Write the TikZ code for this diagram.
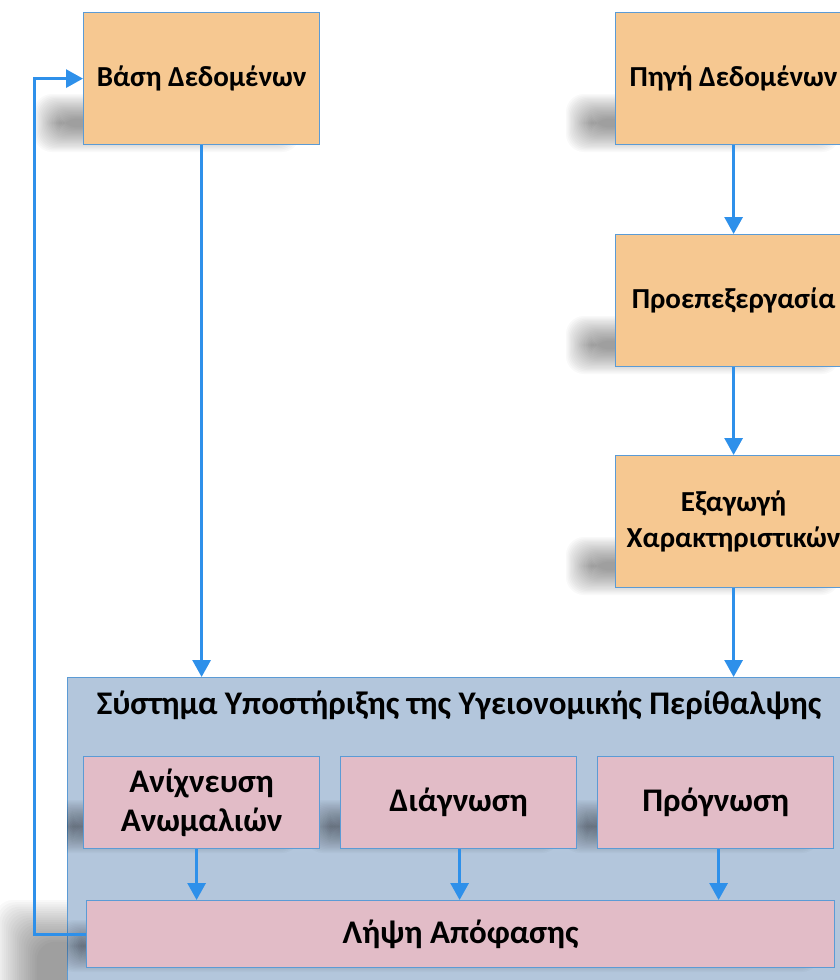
\documentclass[tikz,border=0pt]{standalone}
\usepackage{fontspec}
\setmainfont{Carlito}
\usetikzlibrary{arrows.meta,calc}
\definecolor{boxorange}{RGB}{246,200,145}
\definecolor{boxline}{RGB}{91,155,213}
\definecolor{sysfill}{RGB}{179,198,220}
\definecolor{pinkfill}{RGB}{226,188,199}
\definecolor{arrowblue}{RGB}{46,144,234}
% soft shadow: x1 y1 x2 y2 step
\newcommand{\sblob}[5]{%
  \foreach \k in {0,...,19}{%
    \fill[black,opacity=0.022,rounded corners=18pt] ({#1+#5*\k},{#2+#5*\k}) rectangle ({#3-#5*\k},{#4-#5*\k});
  }}
\begin{document}
\begin{tikzpicture}[x=1pt,y=-1pt,
  obox/.style={draw=boxline, line width=1.2pt, fill=boxorange, minimum width=236pt, minimum height=132pt, anchor=north west, align=center, font=\bfseries\fontsize{29}{36}\selectfont, inner sep=0pt},
  pbox/.style={draw=boxline, line width=1.2pt, fill=pinkfill, anchor=north west, align=center, font=\bfseries\fontsize{33}{39}\selectfont, inner sep=0pt},
  arr/.style={draw=arrowblue, line width=3pt, -{Triangle[width=18pt,length=17pt]}}
]
\useasboundingbox (0,0) rectangle (840,980);
\clip (0,0) rectangle (840,980);
% shadows
\sblob{34}{94}{300}{152}{1.3}
\sblob{566}{94}{840}{152}{1.3}
\sblob{566}{316}{840}{374}{1.3}
\sblob{566}{537}{840}{595}{1.3}
\sblob{-5}{900}{400}{1060}{2.2}
% main frame
\node[draw=boxline, line width=1.2pt, fill=sysfill, anchor=north west, minimum width=790pt, minimum height=330pt, inner sep=0pt] (sys) at (67,677) {};
\begin{scope}
\clip (67,677) rectangle (850,1000);
\sblob{48}{800}{300}{853}{1.3}
\sblob{305}{800}{560}{853}{1.3}
\sblob{562}{800}{820}{853}{1.3}
\sblob{56}{920}{820}{972}{1.3}
\end{scope}
% boxes
\node[obox] (vasi) at (83,12) {Βάση Δεδομένων};
\node[obox] (pigi) at (615,12) {Πηγή Δεδομένων};
\node[obox] (proep) at (615,234) {Προεπεξεργασία};
\node[obox] (exag) at (615,455) {Εξαγωγή\\Χαρακτηριστικών};
\node[font=\bfseries\fontsize{33}{39}\selectfont, inner sep=0pt] (systitle) at (459,705) {Σύστημα Υποστήριξης της Υγειονομικής Περίθαλψης};
\node[pbox, minimum width=236pt, minimum height=92pt] (anix) at (83,756) {Ανίχνευση\\Ανωμαλιών};
\node[pbox, minimum width=236pt, minimum height=92pt] (diag) at (340,756) {Διάγνωση};
\node[pbox, minimum width=236pt, minimum height=92pt] (prog) at (597,756) {Πρόγνωση};
\node[pbox, minimum width=748pt, minimum height=67pt] (lipsi) at (86,900) {Λήψη Απόφασης};
% connectors
\coordinate (fb) at (34,0);
\draw[arr] (pigi) -- (proep);
\draw[arr] (proep) -- (exag);
\draw[arr] (exag.south) -- (exag.south |- sys.north);
\draw[arr] (vasi.south) -- (vasi.south |- sys.north);
\draw[arr] ([xshift=-5pt]anix.south) -- ([xshift=-5pt]anix.south |- lipsi.north);
\draw[arr] ([xshift=1pt]diag.south) -- ([xshift=1pt]diag.south |- lipsi.north);
\draw[arr] ([xshift=3pt]prog.south) -- ([xshift=3pt]prog.south |- lipsi.north);
\draw[arr] (lipsi.west) -- (lipsi.west -| fb) -- (vasi.west -| fb) -- (vasi.west);
\end{tikzpicture}
\end{document}
